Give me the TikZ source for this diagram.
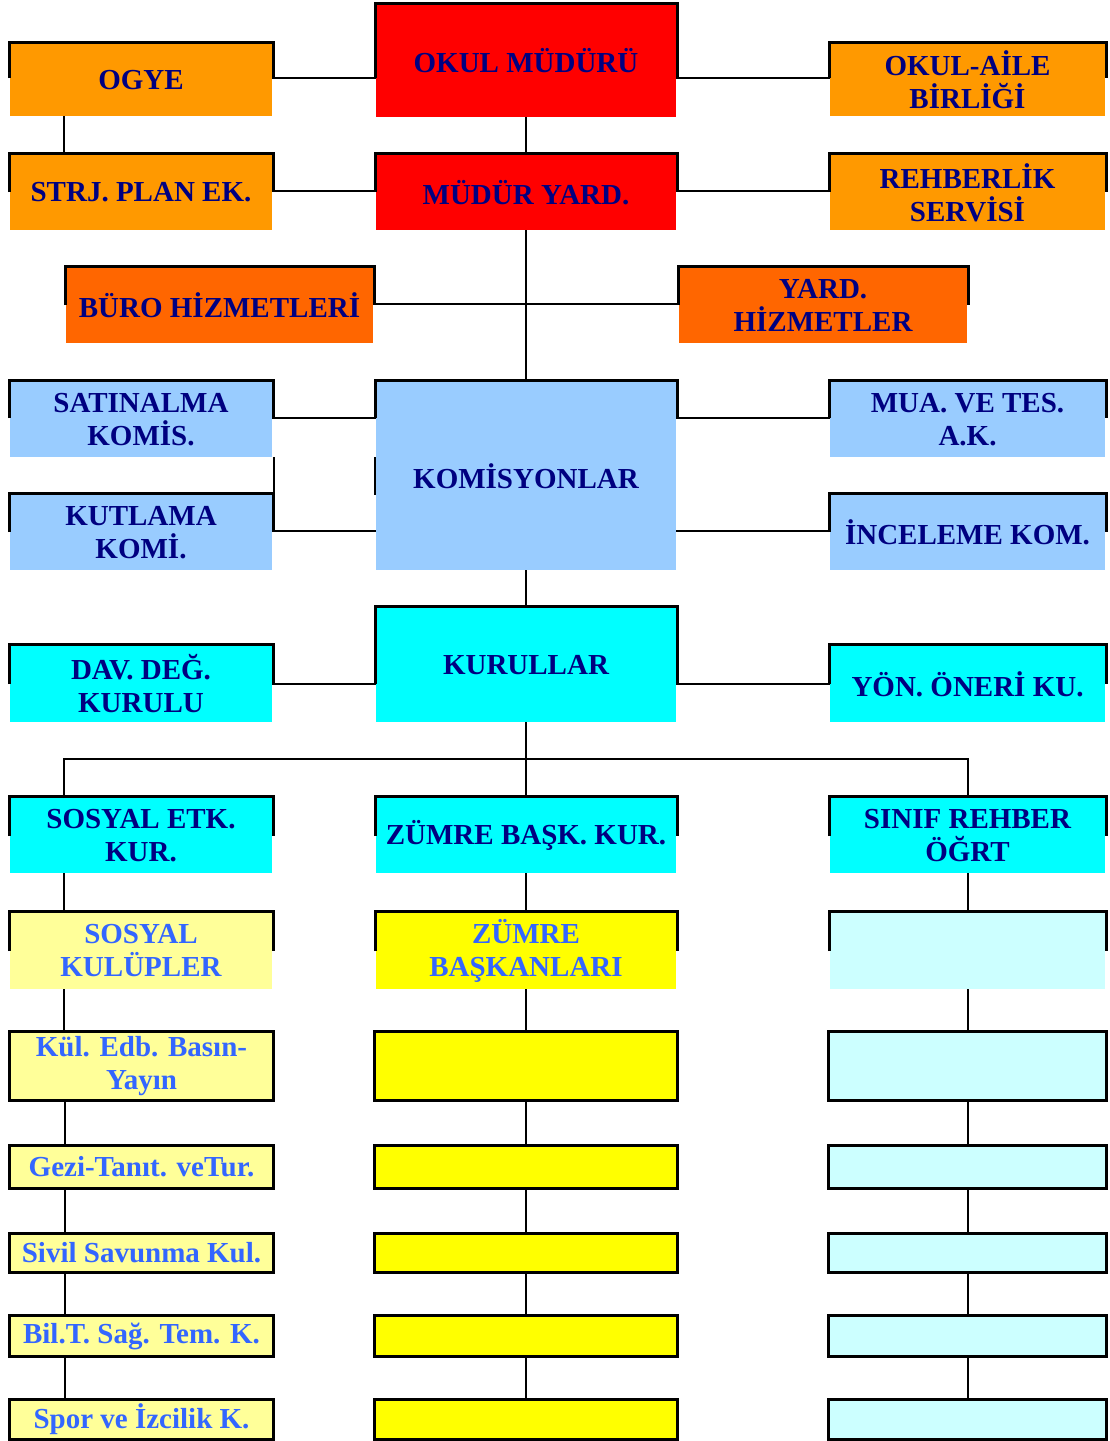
\documentclass[tikz,border=0pt]{standalone}
\usepackage{fontspec}
\setmainfont{Liberation Serif}
\usetikzlibrary{calc}
\definecolor{okorange}{HTML}{FF9900}
\definecolor{okred}{HTML}{FF0000}
\definecolor{okdark}{HTML}{FF6600}
\definecolor{okblue}{HTML}{99CCFF}
\definecolor{okcyan}{HTML}{00FFFF}
\definecolor{okpale}{HTML}{FFFF99}
\definecolor{okyellow}{HTML}{FFFF00}
\definecolor{okice}{HTML}{CCFFFF}
\definecolor{oknavy}{HTML}{000080}
\definecolor{oktext}{HTML}{3366FF}
% black frame over the top of a box, sides down to #2 below its top edge
\newcommand{\topframe}[2]{%
  \draw[frame] ($(#1.north west)+(-1,#2)$) -- ($(#1.north west)+(-1,-1.5)$)
    -- ($(#1.north east)+(1.5,-1.5)$) -- ($(#1.north east)+(1.5,#2)$);}

\begin{document}
\begin{tikzpicture}[x=1pt,y=-1pt,
  unit/.style={inner sep=0pt,outer sep=0pt,align=center,minimum height=75pt,
    font=\fontsize{29}{33}\selectfont\bfseries,text=oknavy},
  lcol/.style={unit,minimum width=262pt},
  mcol/.style={unit,minimum width=300pt},
  rcol/.style={unit,minimum width=275pt},
  club/.style={draw,line width=3pt,text=oktext},
  frame/.style={line width=3pt},
  link/.style={line width=2pt}]
\useasboundingbox (0,0) rectangle (1110,1441);
% ---------- management ----------
\node[lcol,fill=okorange,minimum height=72pt] (ogye) at (141,80) {OGYE};
\node[mcol,fill=okred,minimum height=112pt] (mudur) at (526,61) {OKUL MÜDÜRÜ};
\node[rcol,fill=okorange,minimum height=72pt] (aile) at (967.5,80) {OKUL-AİLE\\BİRLİĞİ};
\node[lcol,fill=okorange] (strj) at (141,192.5) {STRJ. PLAN EK.};
\node[mcol,fill=okred] (myard) at (526,192.5) {MÜDÜR YARD.};
\node[rcol,fill=okorange] (rehber) at (967.5,192.5) {REHBERLİK\\SERVİSİ};
\node[unit,fill=okdark,minimum width=307pt] (buro) at (219.5,305.5) {BÜRO HİZMETLERİ};
\node[unit,fill=okdark,minimum width=288pt] (yard) at (823,305.5) {YARD.\\HİZMETLER};
% ---------- commissions ----------
\node[lcol,fill=okblue] (satin) at (141,419.5) {SATINALMA\\KOMİS.};
\node[mcol,fill=okblue,minimum height=188pt] (komis) at (526,476) {KOMİSYONLAR};
\node[rcol,fill=okblue] (mua) at (967.5,419.5) {MUA. VE TES.\\A.K.};
\node[lcol,fill=okblue] (kutlama) at (141,532.5) {KUTLAMA\\KOMİ.};
\node[rcol,fill=okblue] (incel) at (967.5,532.5) {İNCELEME KOM.};
% ---------- boards ----------
\node[mcol,fill=okcyan,minimum height=114pt] (kurul) at (526,665) {KURULLAR};
\node[lcol,fill=okcyan,minimum height=76pt] (dav) at (141,684) {DAV. DEĞ.\\KURULU};
\node[rcol,fill=okcyan,minimum height=76pt] (yon) at (967.5,684) {YÖN. ÖNERİ KU.};
\node[lcol,fill=okcyan] (soset) at (141,835.5) {SOSYAL ETK.\\KUR.};
\node[mcol,fill=okcyan] (zbk) at (526,835.5) {ZÜMRE BAŞK. KUR.};
\node[rcol,fill=okcyan] (sinif) at (967.5,835.5) {SINIF REHBER\\ÖĞRT};
\node[lcol,fill=okpale,text=oktext,minimum height=76pt] (soskul) at (141,951) {SOSYAL\\KULÜPLER};
\node[mcol,fill=okyellow,text=oktext,minimum height=76pt] (zbas) at (526,951) {ZÜMRE\\BAŞKANLARI};
\node[rcol,fill=okice,minimum height=76pt] (bos) at (967.5,951) {};
\foreach \n/\d in {ogye/34,mudur/73,aile/34,strj/37,myard/37,rehber/37,buro/37,yard/37,
    satin/36,komis/36,mua/36,kutlama/37,incel/37,kurul/76,dav/38,yon/38,
    soset/38,zbk/38,sinif/38,soskul/38,zbas/38,bos/38}
  \topframe{\n}{\d};
% ---------- clubs and rows below ----------
\foreach \r/\y/\h/\t in {1/1066/69/{Kül. Edb. Basın-\\Yayın},2/1167/43/{Gezi-Tanıt. veTur.},
    3/1253/39/{Sivil Savunma Kul.},4/1336/41/{Bil.T. Sağ. Tem. K.},5/1419.5/40/{Spor ve İzcilik K.}}{
  \node[unit,club,fill=okpale,minimum width=264pt,minimum height=\h pt] (kl\r) at (141.5,\y) {\t};
  \node[unit,club,fill=okyellow,minimum width=303pt,minimum height=\h pt] (km\r) at (526,\y) {};
  \node[unit,club,fill=okice,minimum width=278pt,minimum height=\h pt] (kr\r) at (967.5,\y) {};
}
% ---------- connectors ----------
\draw[link] ([yshift=2pt]ogye.east) -- ([yshift=2pt]ogye.east -| mudur.west);
\draw[link] ([yshift=2pt]aile.west -| mudur.east) -- ([yshift=2pt]aile.west);
\draw[link] ([xshift=-77pt]ogye.south) -- ([xshift=-77pt]strj.north);
\draw[link] (mudur) -- (myard);
\draw[link] ([yshift=1.5pt]strj.east) -- ([yshift=1.5pt]myard.west);
\draw[link] ([yshift=1.5pt]myard.east) -- ([yshift=1.5pt]rehber.west);
\draw[link] (myard) -- (komis);
\draw[link] ([yshift=1.5pt]buro.east) -- ([yshift=1.5pt]buro.east -| yard.west);
\draw[link] ([yshift=1.5pt]satin.east) -- ([yshift=1.5pt]satin.east -| komis.west);
\draw[link] ([yshift=1.5pt]mua.west -| komis.east) -- ([yshift=1.5pt]mua.west);
\draw[link] ([yshift=1.5pt]kutlama.east) -- ([yshift=1.5pt]kutlama.east -| komis.west);
\draw[link] ([yshift=1.5pt]incel.west -| komis.east) -- ([yshift=1.5pt]incel.west);
\draw[link] ([xshift=1.5pt]satin.south east) -- ([xshift=1.5pt]kutlama.north east);
\draw[link] ([xshift=-1.5pt]komis.north west |- satin.south) -- ([xshift=-1.5pt]komis.north west |- kutlama.north);
\draw[link] (komis) -- (kurul);
\draw[link] (dav.east) -- (dav.east -| kurul.west);
\draw[link] (yon.west -| kurul.east) -- (yon.west);
\coordinate (bus) at (526,759);
\draw[link] (kurul.south) -- (bus);
\draw[link] ([xshift=-77pt]soset.north) |- (bus) -| ([xshift=0.5pt]sinif.north);
\draw[link] (bus) -- (zbk.north);
\foreach \a/\b in {soset/soskul,soskul/kl1,kl1/kl2,kl2/kl3,kl3/kl4,kl4/kl5}
  \draw[link] ([xshift=-77pt]\a.south) -- ([xshift=-77pt]\a.south |- \b.north);
\foreach \a/\b in {zbk/zbas,zbas/km1,km1/km2,km2/km3,km3/km4,km4/km5}
  \draw[link] (\a) -- (\b);
\foreach \a/\b in {sinif/bos,bos/kr1,kr1/kr2,kr2/kr3,kr3/kr4,kr4/kr5}
  \draw[link] ([xshift=0.5pt]\a.south) -- ([xshift=0.5pt]\a.south |- \b.north);
\end{tikzpicture}
\end{document}
